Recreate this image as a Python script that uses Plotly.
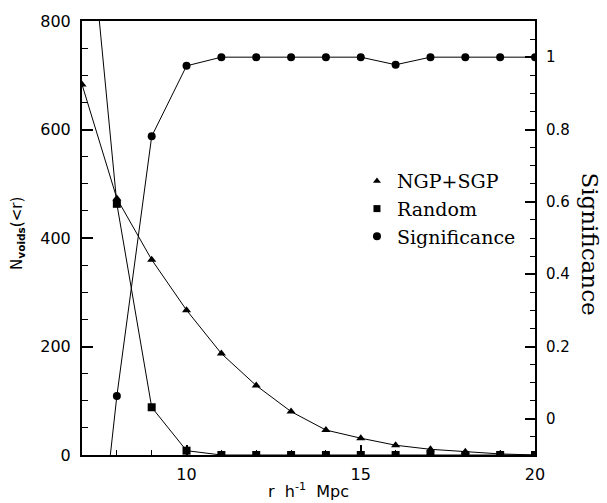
import plotly.graph_objects as go

r_vals = [7, 8, 9, 10, 11, 12, 13, 14, 15, 16, 17, 18, 19, 20]
ngp_sgp = [683, 473, 360, 267, 187, 128, 80, 46, 31, 18, 10.5, 6, 2, 0]
random_voids = [1134, 463, 88, 8, 0, 0, 0, 0, 0, 0, 0, 0, 0, 0]
significance = [-0.81, 0.063, 0.781, 0.976, 1, 1, 1, 1, 1, 0.979, 1, 1, 1, 1]

series_names = ["NGP+SGP", "Random", "Significance"]

SANS = "DejaVu Sans"
SERIF = "DejaVu Serif"

fig = go.Figure()
line_style = dict(color="black", width=1)

fig.add_trace(go.Scatter(x=r_vals, y=ngp_sgp, mode="lines+markers", line=line_style,
                         marker=dict(symbol="triangle-up", size=8, color="black"),
                         showlegend=False, yaxis="y"))
fig.add_trace(go.Scatter(x=r_vals, y=random_voids, mode="lines+markers", line=line_style,
                         marker=dict(symbol="square", size=8, color="black"),
                         showlegend=False, yaxis="y"))
fig.add_trace(go.Scatter(x=r_vals, y=significance, mode="lines+markers", line=line_style,
                         marker=dict(symbol="circle", size=8, color="black"),
                         showlegend=False, yaxis="y2"))

# legend-only entries (markers only, as in the reference)
for name, sym, sz in zip(series_names, ["triangle-up", "square", "circle"], [7, 7, 8]):
    fig.add_trace(go.Scatter(x=[None], y=[None], mode="markers", name=name,
                             marker=dict(symbol=sym, size=sz, color="black"),
                             yaxis="y"))

fig.update_layout(
    width=607, height=503,
    margin=dict(l=82, r=72, t=18, b=48),
    paper_bgcolor="white", plot_bgcolor="white",
    font=dict(family=SANS, size=15, color="black"),
    xaxis=dict(range=[7, 20], showgrid=False, zeroline=False,
               showline=True, linecolor="black", linewidth=2, mirror=True,
               ticks="inside", ticklen=10, tickwidth=1.5, tickcolor="black",
               tickvals=[10, 15, 20], ticktext=["10", "15", "20"],
               minor=dict(tickvals=list(range(7, 21)), ticks="inside", ticklen=5,
                          tickwidth=1.2, tickcolor="black"),
               tickfont=dict(family=SANS, size=16), ticklabelstandoff=4),
    yaxis=dict(range=[0, 800], showgrid=False, zeroline=False,
               showline=True, linecolor="black", linewidth=2,
               ticks="inside", ticklen=11, tickwidth=1.5, tickcolor="black",
               tickvals=[0, 200, 400, 600, 800],
               minor=dict(dtick=50, ticks="inside", ticklen=6, tickwidth=1.2,
                          tickcolor="black"),
               tickfont=dict(family=SANS, size=16), ticklabelstandoff=6),
    yaxis2=dict(range=[-0.1, 1.1], overlaying="y", side="right", showgrid=False,
                zeroline=False, showline=True, linecolor="black", linewidth=2,
                ticks="inside", ticklen=10, tickwidth=1.5, tickcolor="black",
                tickvals=[0, 0.2, 0.4, 0.6, 0.8, 1],
                ticktext=["0", "0.2", "0.4", "0.6", "0.8", "1"],
                minor=dict(dtick=0.05, tick0=0, ticks="inside", ticklen=5,
                           tickwidth=1.2, tickcolor="black"),
                tickfont=dict(family=SANS, size=15), ticklabelstandoff=6),
    legend=dict(x=0.607, y=0.675, xanchor="left", yanchor="top",
                font=dict(family=SERIF, size=19), bgcolor="rgba(0,0,0,0)",
                itemwidth=30, tracegroupgap=0),
    showlegend=True,
)

fig.add_annotation(text="r  h<sup>-1</sup>  Mpc", xref="paper", yref="paper",
                   x=0.5, y=-0.082, xanchor="center", yanchor="middle", showarrow=False,
                   font=dict(family=SANS, size=16))
fig.add_annotation(text="N<sub><b>voids</b></sub>(&lt;r)", xref="paper", yref="paper",
                   x=-0.143, y=0.51, xanchor="center", yanchor="middle", textangle=-90,
                   showarrow=False, font=dict(family=SANS, size=15))
fig.add_annotation(text="Significance", xref="paper", yref="paper",
                   x=1.122, y=0.487, xanchor="center", yanchor="middle", textangle=90,
                   showarrow=False, font=dict(family=SERIF, size=23))

fig.write_html("out.html", config={"displayModeBar": False},
               post_script="document.body.style.margin='0';document.body.style.padding='0';")
